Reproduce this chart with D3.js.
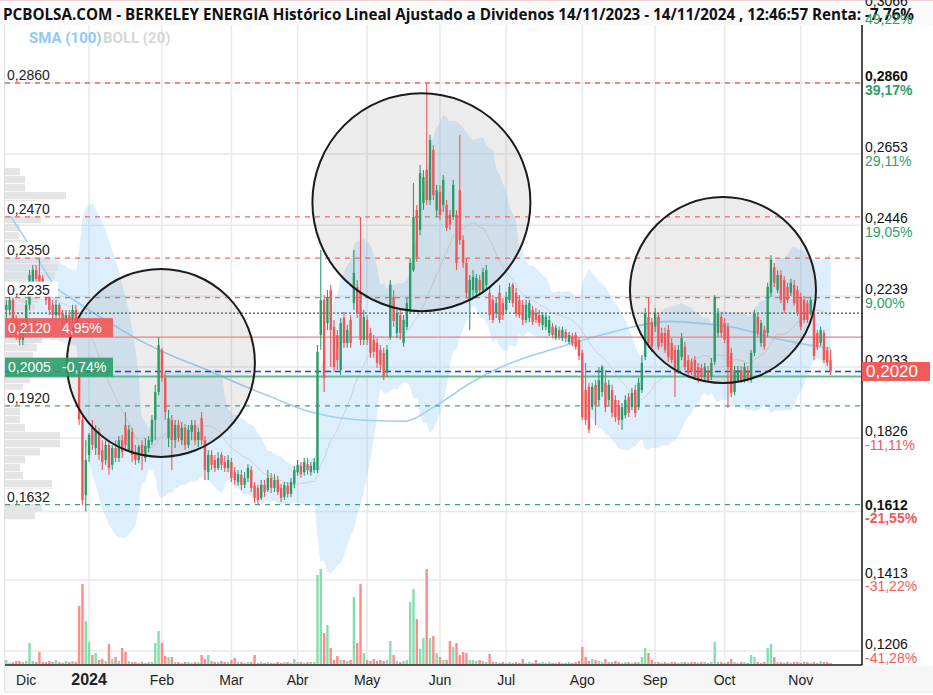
<!DOCTYPE html>
<html><head><meta charset="utf-8">
<script src="https://d3js.org/d3.v7.min.js"></script>
<style>
body{margin:0;background:#fff}
svg{display:block}
text{font-family:"Liberation Sans",Arial,sans-serif}
</style>
</head><body>
<svg id="c" width="933" height="695"></svg>
<script>
// ---------------- DATA (prices in 1/10000 EUR) ----------------
const firstDate = "2023-11-14", lastDate = "2024-11-14";
const holidays = ["2023-12-25","2023-12-26","2024-01-01","2024-03-29","2024-04-01","2024-05-01"];

const openT = [
2230,2190,2272,2330,2257,2315,2243,2199,2199,2228,
2170,2130,2112,2155,2214,2280,2315,2300,2290,2257,
2243,2214,2184,2214,2190,2160,2184,2170,2199,2015,
1880,1660,1777,1856,1797,1844,1791,1762,1806,1748,
1797,1768,1820,1864,1791,1844,1785,1762,1806,1768,
1797,1815,1879,1960,2083,2001,1826,1879,1820,1864,
1820,1856,1806,1844,1864,1820,1884,1820,1727,1777,
1762,1739,1777,1756,1739,1756,1727,1698,1719,1690,
1710,1733,1687,1681,1652,1690,1675,1710,1681,1704,
1681,1655,1687,1663,1693,1727,1745,1727,1750,1727,
1733,1733,2126,2228,2161,2257,2150,2126,2024,2176,
2103,2170,2219,2266,2249,2112,2170,2132,2112,2103,
2083,2074,2016,2120,2237,2132,2184,2103,2150,2199,
2315,2490,2432,2511,2607,2519,2665,2490,2543,2505,
2505,2476,2470,2476,2548,2403,2336,2228,2257,2249,
2286,2257,2272,2249,2228,2190,2249,2219,2199,2228,
2272,2249,2228,2214,2170,2176,2199,2190,2184,2155,
2150,2132,2150,2117,2141,2117,2135,2106,2123,2126,
2112,2074,1966,1975,1916,1981,1937,1960,1987,1937,
1966,1937,1922,1879,1893,1946,1916,1966,1916,1966,
2062,2179,2164,2150,2179,2132,2132,2141,2103,2083,
2024,2062,2092,2053,2048,2053,2033,2030,2004,2024,
2004,2048,2132,2179,2161,2150,2074,1960,1995,2024,
1995,2024,1995,2074,2179,2103,2141,2132,2249,2324,
2257,2301,2286,2266,2249,2272,2257,2237,2228,2219,
2190,2190,2132,2103,2132,2083,2053];
const highT = [
2245,2280,2345,2340,2325,2320,2295,2228,2243,2235,
2184,2141,2170,2228,2315,2330,2330,2350,2300,2265,
2250,2228,2228,2220,2199,2199,2199,2214,2214,2024,
1893,1820,1841,1879,1864,1856,1820,1820,1820,1806,
1820,1832,1835,1902,1864,1856,1806,1806,1820,1826,
1832,1893,1981,2120,2089,2019,1908,1893,1879,1879,
1873,1867,1864,1879,1879,1856,1902,1832,1791,1791,
1777,1785,1785,1774,1777,1768,1742,1733,1733,1727,
1750,1745,1698,1690,1704,1704,1733,1724,1721,1716,
1693,1698,1698,1710,1745,1762,1756,1768,1768,1756,
1768,2097,2374,2243,2257,2272,2170,2141,2176,2193,
2155,2184,2374,2286,2470,2199,2184,2147,2126,2117,
2097,2089,2097,2286,2257,2205,2199,2184,2234,2350,
2569,2505,2621,2607,2860,2709,2679,2563,2563,2592,
2519,2490,2578,2490,2709,2417,2350,2301,2315,2304,
2301,2322,2330,2263,2243,2234,2272,2234,2252,2278,
2278,2263,2243,2228,2228,2228,2211,2205,2199,2193,
2190,2182,2161,2155,2150,2150,2144,2135,2132,2135,
2120,2083,2045,1987,1987,1995,2033,2039,2024,1995,
1981,1951,1937,1928,1951,1957,1972,1981,2001,2068,
2205,2234,2176,2205,2193,2147,2147,2155,2117,2097,
2097,2132,2106,2068,2059,2065,2045,2042,2045,2036,
2059,2243,2205,2193,2176,2161,2089,2036,2036,2036,
2045,2036,2083,2199,2190,2170,2153,2278,2359,2336,
2315,2315,2298,2278,2290,2286,2269,2249,2240,2228,
2237,2199,2141,2150,2141,2092,2083];
const lowT = [
2180,2185,2265,2250,2250,2235,2238,2170,2184,2155,
2112,2097,2097,2141,2199,2257,2272,2250,2257,2214,
2184,2170,2170,2170,2141,2150,2155,2160,2155,1864,
1631,1612,1756,1791,1777,1762,1733,1748,1719,1733,
1756,1756,1768,1791,1785,1756,1748,1753,1733,1756,
1785,1806,1820,1951,1990,1879,1800,1733,1797,1815,
1806,1791,1797,1820,1806,1800,1806,1704,1704,1733,
1727,1733,1733,1727,1727,1698,1690,1687,1675,1681,
1698,1669,1637,1634,1646,1655,1669,1666,1669,1660,
1640,1646,1652,1655,1681,1716,1710,1716,1719,1716,
1724,1724,2083,1960,2141,2033,2019,2024,2010,2089,
2089,2089,2199,2176,2097,2097,2097,2060,2060,2030,
2024,1995,2004,2112,2150,2117,2112,2092,2141,2190,
2310,2339,2417,2490,2505,2505,2519,2470,2461,2484,
2429,2432,2461,2315,2388,2322,2237,2141,2234,2234,
2243,2249,2257,2170,2161,2176,2161,2170,2190,2219,
2208,2179,2176,2155,2161,2164,2155,2161,2150,2141,
2141,2123,2117,2112,2112,2109,2106,2100,2094,2083,
2053,1879,1864,1841,1908,1864,1922,1946,1902,1922,
1887,1873,1864,1850,1884,1887,1908,1887,1908,1957,
2053,2089,2077,2135,2083,2092,2074,2048,2045,1946,
2013,2053,2024,2007,2010,1995,1987,1995,1995,1990,
1995,2039,2120,2120,2103,1914,1946,1951,1987,1987,
1987,1990,1987,2065,2120,2092,2083,2120,2237,2266,
2249,2219,2190,2219,2240,2211,2182,2141,2161,2161,
2184,2053,2083,2094,2045,2036,2010];
const closeT = [
2190,2272,2330,2257,2315,2243,2286,2214,2228,2170,
2126,2112,2155,2214,2300,2315,2290,2260,2272,2228,
2199,2184,2214,2184,2160,2184,2170,2199,2170,1880,
1646,1762,1835,1806,1850,1777,1756,1806,1739,1797,
1768,1820,1785,1806,1850,1777,1762,1800,1774,1803,
1820,1879,1960,2097,2001,1902,1884,1820,1864,1826,
1856,1806,1850,1864,1820,1844,1820,1733,1777,1748,
1739,1768,1748,1739,1762,1710,1704,1721,1690,1710,
1739,1681,1652,1646,1690,1669,1710,1681,1704,1669,
1652,1690,1663,1698,1733,1748,1721,1756,1733,1745,
1756,2077,2228,2001,2237,2141,2033,2053,2161,2103,
2141,2103,2307,2190,2112,2179,2112,2074,2077,2045,
2039,2004,2083,2272,2167,2190,2132,2170,2219,2336,
2470,2353,2598,2586,2519,2694,2534,2548,2476,2578,
2438,2447,2563,2336,2403,2336,2249,2286,2295,2292,
2257,2310,2315,2184,2170,2219,2170,2184,2237,2266,
2219,2190,2184,2170,2214,2219,2164,2170,2161,2184,
2179,2170,2126,2147,2120,2141,2117,2126,2103,2092,
2065,1887,1879,1850,1975,1922,1995,2033,1916,1981,
1899,1887,1879,1916,1937,1899,1957,1899,1987,2045,
2190,2103,2092,2190,2092,2103,2083,2062,2053,2016,
2083,2117,2033,2016,2019,2004,1995,2004,2033,1995,
2045,2237,2190,2132,2112,2033,1957,2024,2024,1995,
2033,1995,2074,2190,2132,2161,2092,2266,2345,2278,
2301,2228,2199,2228,2278,2219,2190,2150,2170,2170,
2228,2065,2092,2141,2053,2045,2020];
const volume = [
3,4,3,5,3,4,3,5,2,3,
4,4,3,4,22,4,3,13,3,3,
4,3,5,3,2,4,3,4,3,59,
81,44,23,10,12,5,6,4,21,6,
8,4,17,13,4,3,3,2,3,2,
3,3,22,34,22,9,8,8,3,3,
2,3,3,2,3,3,10,6,10,4,
3,3,4,3,3,5,7,3,3,2,
3,3,10,2,3,2,3,2,2,3,
2,3,3,2,6,3,3,2,3,3,
3,90,96,32,40,17,5,9,5,5,
4,5,68,22,81,12,5,4,6,4,
5,4,5,24,10,4,3,4,5,63,
76,46,16,27,96,27,29,12,8,5,
5,24,18,22,10,13,12,5,5,4,
5,4,3,11,3,3,2,3,2,3,
2,3,2,6,2,3,2,5,2,3,
2,3,2,2,3,2,2,3,2,3,
4,18,8,4,6,5,4,3,6,3,
3,4,3,2,3,3,2,3,3,8,
17,12,5,3,3,2,3,2,3,3,
2,3,3,2,3,3,2,3,3,2,
3,23,3,3,2,3,6,3,2,3,
3,2,10,8,3,2,3,17,21,8,
3,3,2,3,2,3,3,2,3,3,
2,3,2,4,3,3,2];

// SMA(100) at selected sessions (session index, price 1/10000)
const smaIdx = [7,12,17,22,27,32,37,47,57,67,77,87,97,107,117,127,137,147,157,167,177,187,197,207,217,227,237,247,256];
const smaVal = [2490,2417,2339,2266,2231,2199,2169,2112,2066,2027,1985,1946,1908,1886,1877,1875,1922,1985,2035,2070,2099,2127,2151,2166,2160,2148,2122,2101,2087];

// Volume-by-price profile (price bin, relative volume)
const vpLevels = [2601,2578,2554,2531,2508,2484,2461,2438,2414,2391,2368,2345,2321,2298,2275,2251,2228,2205,2182,2158,2135,2112,2088,2065,2042,2018,1995,1972,1949,1925,1902,1879,1855,1832,1809,1785,1762,1739,1716,1692,1669,1646,1622,1599];
const vpVolume = [15,20,20,61,30,25,36,15,14,20,25,45,53,50,20,20,33,30,25,35,30,37,32,28,30,30,25,18,25,17,15,15,20,55,55,35,20,15,18,47,47,25,37,30];

// Right axis (the % of 0,2033 is hidden under the last-price tag in the original)
const axisPrices = [0.3066,0.2860,0.2653,0.2446,0.2239,0.2033,0.1826,0.1612,0.1413,0.1206];
const axisPct    = ["49,22%","39,17%","29,11%","19,05%","9,00%","","-11,11%","-21,55%","-31,22%","-41,28%"];
const axisBold   = [false,true,false,false,false,false,false,true,false,false];

// Horizontal levels
const resistances = [0.2860,0.2470,0.2350,0.2235];
const supports = [0.1920,0.1632];
const startPrice = 0.2190, lastPrice = 0.2020, upperRef = 0.2120, lowerRef = 0.2005;

const monthAbbr = ["Ene","Feb","Mar","Abr","May","Jun","Jul","Ago","Sep","Oct","Nov","Dic"];
const title = "PCBOLSA.COM - BERKELEY ENERGIA Histórico Lineal Ajustado a Dividenos 14/11/2023 - 14/11/2024 , 12:46:57 Renta: -7,76%";

// Highlight circles (session index, price, radius px)
const highlights = [{at:53.7, price:0.2045, r:94},{at:132.4, price:0.2513, r:109},{at:223.5, price:0.2257, r:93}];

// ---------------- CHART ----------------
const P = v => v / 10000;
const n = closeT.length;
const svg = d3.select("#c");
const plot = {l:5, r:862, t:25, b:665};
const viewFrom = 6.6, viewTo = 265.5;   // visible session window

const parse = d3.timeParse("%Y-%m-%d"), fmtD = d3.timeFormat("%Y-%m-%d");
const hol = new Set(holidays);
const dates = d3.timeDay.range(parse(firstDate), d3.timeDay.offset(parse(lastDate), 1))
  .filter(d => d.getDay() % 6 !== 0 && !hol.has(fmtD(d)));

const x = d3.scaleLinear().domain([viewFrom, viewTo]).range([plot.l, plot.r]);
const y = d3.scaleLinear().domain([0.1206, 0.2860]).range([651, 83]);
const yv = d3.scaleLinear().domain([0, d3.max(volume)]).range([plot.b, plot.b - 96]);
const xvp = d3.scaleLinear().domain([0, d3.max(vpVolume)]).range([0, 61]);

const GREEN = "#2b9c69", RED = "#f05656";
const fmt4 = v => v.toFixed(4).replace(".", ",");
const fmtPct = v => v.toFixed(2).replace(".", ",") + "%";

// title bar
svg.append("rect").attr("x",0).attr("y",0).attr("width",933).attr("height",25).attr("fill","#fafafa");
svg.append("line").attr("x1",0).attr("x2",933).attr("y1",0.5).attr("y2",0.5).attr("stroke","#f0d4d4");

// defs clip
svg.append("defs").append("clipPath").attr("id","clip").append("rect")
  .attr("x",plot.l).attr("y",plot.t).attr("width",plot.r-plot.l).attr("height",plot.b-plot.t);

const g = svg.append("g").attr("clip-path","url(#clip)");

// month ticks
const ticks = [];
for (let i = 1; i < dates.length; i++) if (dates[i].getMonth() !== dates[i-1].getMonth()) ticks.push(i);

// grid
g.selectAll("line.vg").data(ticks.slice(1)).join("line")
  .attr("x1", i => x(i)).attr("x2", i => x(i)).attr("y1", plot.t).attr("y2", plot.b)
  .attr("stroke","#e9e9e9").attr("stroke-width",1.5);
g.selectAll("line.hg").data(axisPrices).join("line")
  .attr("x1", plot.l).attr("x2", plot.r).attr("y1", d => y(d)).attr("y2", d => y(d))
  .attr("stroke","#e9e9e9").attr("stroke-width",1.5);

// Bollinger(20) from closes
const closes = closeT.map(P);
const boll = closes.map((_, i) => {
  const w = closes.slice(Math.max(0, i - 19), i + 1);
  const m = d3.mean(w);
  const sd = Math.sqrt(d3.mean(w, v => (v - m) ** 2));
  return {i, m, up: m + 2 * sd, lo: m - 2 * sd};
});
g.append("path").datum(boll)
  .attr("d", d3.area().x(d => x(d.i)).y0(d => y(d.lo)).y1(d => y(d.up)).curve(d3.curveMonotoneX))
  .attr("fill","rgba(144,202,249,0.3)");

// volume profile
const vpStep = Math.abs(y(P(vpLevels[0])) - y(P(vpLevels[1])));
g.selectAll("rect.vp").data(vpLevels).join("rect")
  .attr("x", plot.l).attr("y", d => y(P(d)) - vpStep/2)
  .attr("width", (d,i) => xvp(vpVolume[i])).attr("height", vpStep - 0.8)
  .attr("fill","#dcdcdc").attr("opacity",0.75);

g.append("path").datum(boll)
  .attr("d", d3.line().x(d => x(d.i)).y(d => y(d.m)).curve(d3.curveMonotoneX))
  .attr("fill","none").attr("stroke","#d2d2d2").attr("stroke-width",1);

// SMA 100
g.append("path").datum(smaIdx.map((d,k) => [d, P(smaVal[k])]))
  .attr("d", d3.line().x(d => x(d[0])).y(d => y(d[1])).curve(d3.curveMonotoneX))
  .attr("fill","none").attr("stroke","#9fd0f7").attr("stroke-width",1.6);

// circle fills
g.selectAll("circle.hf").data(highlights).join("circle")
  .attr("cx", d => x(d.at)).attr("cy", d => y(d.price)).attr("r", d => d.r)
  .attr("fill","rgba(120,120,120,0.14)");

// volume bars
const idx = d3.range(n);
const up = i => closeT[i] >= openT[i];
g.selectAll("rect.vol").data(idx).join("rect")
  .attr("x", i => x(i) - 1.2).attr("width", 2.4)
  .attr("y", i => yv(volume[i])).attr("height", i => plot.b - yv(volume[i]))
  .attr("fill", i => up(i) ? "#7fdca9" : "#ff8585").attr("opacity",0.95);

// level lines
const hline = (p, color, dash, w) => g.append("line")
  .attr("x1", plot.l).attr("x2", plot.r).attr("y1", y(p)).attr("y2", y(p))
  .attr("stroke", color).attr("stroke-width", w).attr("stroke-dasharray", dash);
resistances.forEach(p => hline(p, "#f46464", "5,5", 1.3));
supports.forEach(p => hline(p, "#3aa57a", "5,5", 1.3));
hline(startPrice, "#555", "2,2", 1.2);
hline(upperRef, "#f08080", null, 1.3);
hline(lowerRef, "#62bb8f", null, 2);
hline(lastPrice, "#1f3fe0", "6,4", 1.6);

// candles
g.selectAll("line.wick").data(idx).join("line")
  .attr("x1", i => x(i)).attr("x2", i => x(i))
  .attr("y1", i => y(P(highT[i]))).attr("y2", i => y(P(lowT[i])))
  .attr("stroke", i => up(i) ? GREEN : RED).attr("stroke-width", 1.1);
g.selectAll("rect.body").data(idx).join("rect")
  .attr("x", i => x(i) - 1.2).attr("width", 2.4)
  .attr("y", i => y(P(Math.max(openT[i], closeT[i]))))
  .attr("height", i => Math.max(1, Math.abs(y(P(openT[i])) - y(P(closeT[i])))))
  .attr("fill", i => up(i) ? GREEN : RED);

// circle strokes
g.selectAll("circle.hs").data(highlights).join("circle")
  .attr("cx", d => x(d.at)).attr("cy", d => y(d.price)).attr("r", d => d.r)
  .attr("fill","none").attr("stroke","#1b1b1b").attr("stroke-width",2);

// left level labels
const lab = svg.append("g");
[...resistances, ...supports].forEach(p => {
  lab.append("rect").attr("x", plot.l).attr("y", y(p) - 16).attr("width", 53).attr("height", 15).attr("fill","#fff");
  lab.append("text").attr("x", 7).attr("y", y(p) - 3).attr("font-size",14).attr("fill","#222").text(fmt4(p));
});
[[upperRef, RED], [lowerRef, GREEN]].forEach(([p, col]) => {
  lab.append("rect").attr("x", plot.l).attr("y", y(p) - 19).attr("width", 108).attr("height", 19)
    .attr("fill", col).attr("opacity", 0.9);
  lab.append("text").attr("x", 8).attr("y", y(p) - 4.5).attr("font-size",14).attr("fill","#fff").text(fmt4(p));
  lab.append("text").attr("x", 62).attr("y", y(p) - 4.5).attr("font-size",14).attr("fill","#fff")
    .text(fmtPct((p / lastPrice - 1) * 100));
});

// left border
svg.append("line").attr("x1",plot.l-0.5).attr("x2",plot.l-0.5).attr("y1",plot.t).attr("y2",692).attr("stroke","#dedede");

// x-axis band
svg.append("rect").attr("x",plot.l).attr("y",plot.b+1).attr("width",933-plot.l).attr("height",25).attr("fill","#f6f6f6");
svg.append("line").attr("x1",plot.l).attr("x2",933).attr("y1",692).attr("y2",692).attr("stroke","#ead8d8");
svg.append("line").attr("x1",plot.l).attr("x2",plot.r).attr("y1",plot.b).attr("y2",plot.b).attr("stroke","#555").attr("stroke-width",2);
svg.selectAll("text.mx").data(ticks).join("text")
  .attr("x", i => x(i)).attr("y", 685).attr("text-anchor","middle")
  .attr("font-size", i => dates[i].getMonth() === 0 ? 16 : 14)
  .attr("font-weight", i => dates[i].getMonth() === 0 ? "bold" : "normal")
  .attr("fill","#222")
  .text(i => dates[i].getMonth() === 0 ? String(dates[i].getFullYear()) : monthAbbr[dates[i].getMonth()]);

// right axis
svg.append("line").attr("x1",plot.r).attr("x2",plot.r).attr("y1",plot.t).attr("y2",plot.b)
  .attr("stroke","#111").attr("stroke-width",1.5);

// title + legend
svg.append("text").attr("x",3).attr("y",20).attr("font-size",16).attr("font-weight","bold")
  .style("font-family","'Open Sans','Noto Sans',sans-serif").attr("fill","#111")
  .attr("textLength",911).attr("lengthAdjust","spacingAndGlyphs").text(title);
svg.append("text").attr("x",29).attr("y",43).attr("font-size",15).attr("font-weight","bold")
  .style("font-family","Roboto,Arial,sans-serif").attr("fill","#8fc9f6").text("SMA (100)");
svg.append("text").attr("x",103).attr("y",43).attr("font-size",15).attr("font-weight","bold")
  .style("font-family","Roboto,Arial,sans-serif").attr("fill","#d6d6d6").text("BOLL (20)");

// right labels
axisPrices.forEach((p, k) => {
  const yy = Math.max(y(p), 12);
  const neg = axisPct[k].startsWith("-");
  svg.append("text").attr("x",865).attr("y", k === 0 ? 6 : yy - 2).attr("font-size",14)
    .attr("font-weight", axisBold[k] ? "bold" : "normal").attr("fill","#111").text(fmt4(p));
  if (axisPct[k]) svg.append("text").attr("x",865).attr("y",yy + 11.5).attr("font-size",14)
    .attr("font-weight", axisBold[k] ? "bold" : "normal").attr("fill", neg ? "#f05a5a" : "#2e9e6b").text(axisPct[k]);
});
// current price tag
svg.append("rect").attr("x",plot.r).attr("y",y(lastPrice) - 9.5).attr("width",68).attr("height",19).attr("fill","#f25a5a");
svg.append("text").attr("x",866).attr("y",y(lastPrice) + 6).attr("font-size",17).attr("fill","#fff").text(fmt4(lastPrice));
</script>
</body></html>
